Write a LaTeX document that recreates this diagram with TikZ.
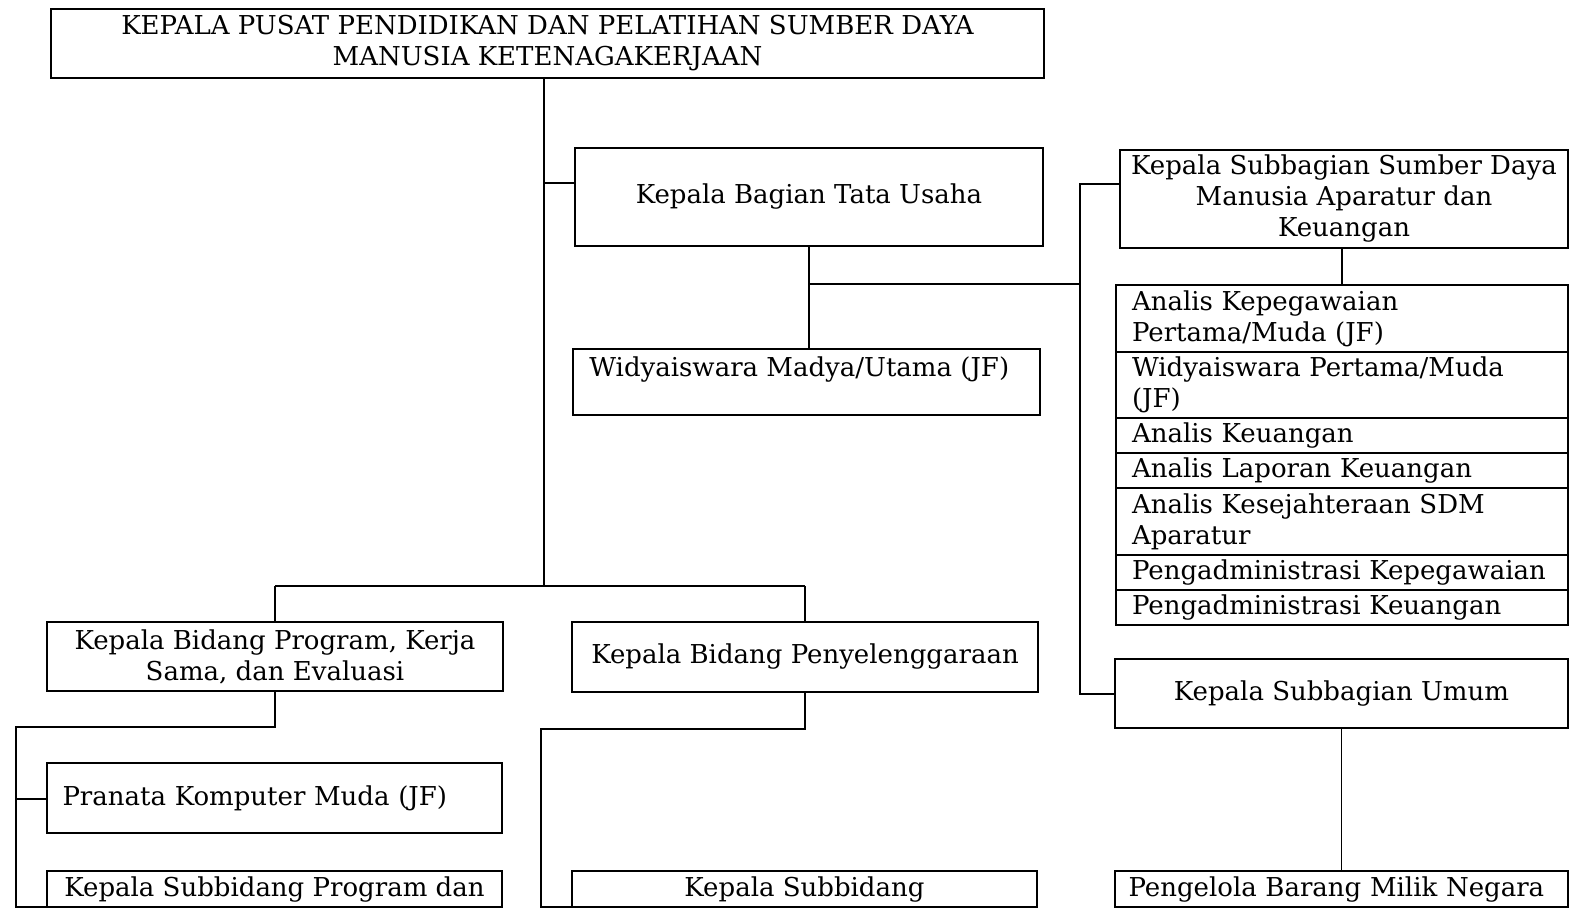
\documentclass[tikz,border=0pt]{standalone}
\usepackage{fontspec}
\setmainfont{DejaVu Serif}
\begin{document}
\begin{tikzpicture}[x=0.5pt,y=-0.5pt,
  box/.style={draw,line width=0.85pt,rectangle,inner sep=0pt,outer sep=0pt,anchor=north west,align=center,
    font=\fontsize{13}{15.5}\selectfont},
  lrow/.style={box,align=left,minimum width=226pt,text width=210pt,inner xsep=8pt},
  ln/.style={line width=0.7pt}]
\useasboundingbox (0,0) rectangle (1573,910);
% top
\node[box,minimum width=496.5pt,minimum height=34.5pt] (top) at (51,9)
  {KEPALA PUSAT PENDIDIKAN DAN PELATIHAN SUMBER DAYA\\MANUSIA KETENAGAKERJAAN};
% Tata Usaha
\node[box,minimum width=234pt,minimum height=49pt] (tu) at (575,148) {Kepala Bagian Tata Usaha};
\node[box,minimum width=233.5pt,minimum height=33pt] (wm) at (573,349) {};
\node[anchor=west,inner sep=0pt,font=\fontsize{13}{15.5}\selectfont] (wmt) at (589,370) {Widyaiswara Madya/Utama (JF)};
% SDM
\node[box,minimum width=224pt,minimum height=49pt] (sdm) at (1120,150)
  {Kepala Subbagian Sumber Daya\\Manusia Aparatur dan\\Keuangan};
\node[lrow,minimum height=33.5pt] (r1) at (1116,285) {Analis Kepegawaian\\Pertama/Muda (JF)};
\node[lrow,minimum height=33pt] (r2) at (1116,352) {Widyaiswara Pertama/Muda\\(JF)};
\node[lrow,minimum height=17.5pt] (r3) at (1116,418) {Analis Keuangan};
\node[lrow,minimum height=17.5pt] (r4) at (1116,453) {Analis Laporan Keuangan};
\node[lrow,minimum height=33.5pt] (r5) at (1116,488) {Analis Kesejahteraan SDM\\Aparatur};
\node[lrow,minimum height=17.5pt] (r6) at (1116,555) {Pengadministrasi Kepegawaian};
\node[lrow,minimum height=17.5pt] (r7) at (1116,590) {Pengadministrasi Keuangan};
% Umum
\node[box,minimum width=226.5pt,minimum height=34.5pt] (um) at (1115,659) {Kepala Subbagian Umum};
\node[box,minimum width=226.5pt,minimum height=18pt,align=left,text width=213pt,inner xsep=6.75pt] (pbmn) at (1115,871) {Pengelola Barang Milik Negara};
% bidang
\node[box,minimum width=228pt,minimum height=34.5pt] (prog) at (47,622) {Kepala Bidang Program, Kerja\\Sama, dan Evaluasi};
\node[box,minimum width=233pt,minimum height=35pt] (peny) at (572,622) {Kepala Bidang Penyelenggaraan};
\node[box,minimum width=227.5pt,minimum height=35pt,align=left,text width=212pt,inner xsep=7.5pt] (pk) at (47,763) {Pranata Komputer Muda (JF)};
\node[box,minimum width=227.5pt,minimum height=18pt] (sb1) at (47,871) {Kepala Subbidang Program dan};
\node[box,minimum width=232.5pt,minimum height=18pt] (sb2) at (572,871) {Kepala Subbidang};
% connectors
\coordinate (spine) at (544,586);
\coordinate (j1) at (544,183);
\coordinate (vr) at (1080,184);
\coordinate (vrb) at (1080,694);
\coordinate (hb1) at (275,586);
\coordinate (hb2) at (805,586);
\coordinate (lp) at (275,727);
\coordinate (lpl) at (16,727);
\coordinate (lpk) at (16,799);
\coordinate (rp) at (805,729);
\coordinate (rpl) at (541,729);
\draw[ln] (top.south -| spine) -- (spine);
\draw[ln] (j1) -- (j1 -| tu.west);
\draw[ln] (tu.south) -- (wm.north -| tu.south);
\draw[ln] (tu.south |- 0,284) -- (vr |- 0,284);
\draw[ln] (vr -| sdm.west) -- (vr) -- (vrb) -- (vrb -| um.west);
\draw[ln] (sdm.south -| r1.north) -- (r1.north);
\draw[ln] (um.south -| pbmn.north) -- (pbmn.north);
\draw[ln] (hb1) -- (hb2);
\draw[ln] (hb1) -- (hb1 |- prog.north);
\draw[ln] (hb2) -- (hb2 |- peny.north);
\draw[ln] (prog.south) -- (prog.south |- lp) -- (lpl) -- (lpl |- sb1.south) -- (sb1.south west);
\draw[ln] (lpk) -- (lpk -| pk.west);
\draw[ln] (peny.south) -- (peny.south |- rp) -- (rpl) -- (rpl |- sb2.south) -- (sb2.south west);
\end{tikzpicture}
\end{document}
